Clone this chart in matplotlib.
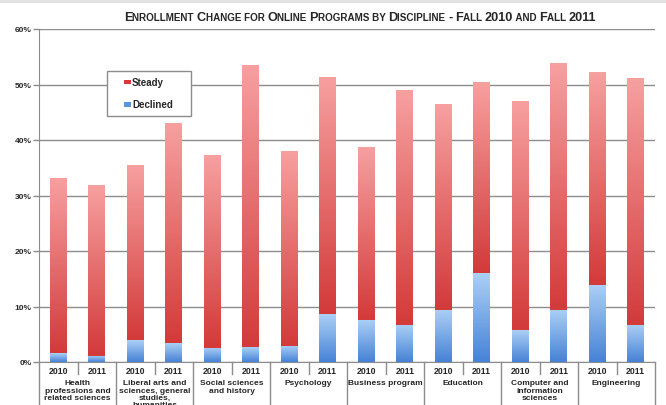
import matplotlib
matplotlib.use('Agg')
import matplotlib.pyplot as plt
import numpy as np
from matplotlib.colors import LinearSegmentedColormap
from matplotlib.patches import Rectangle
from matplotlib.offsetbox import TextArea, HPacker, AnchoredOffsetbox
from matplotlib.transforms import blended_transform_factory

# ---------------- data ----------------
title = "Enrollment Change for Online Programs by Discipline - Fall 2010 and Fall 2011"
years = ['2010', '2011'] * 8
disciplines = [
    "Health\nprofessions and\nrelated sciences",
    "Liberal arts and\nsciences, general\nstudies,\nhumanities",
    "Social sciences\nand history",
    "Psychology",
    "Business program",
    "Education",
    "Computer and\ninformation\nsciences",
    "Engineering",
]
declined = [1.6, 1.1, 3.9, 3.4, 2.6, 2.7, 2.9, 8.6, 7.6, 6.7, 9.4, 16.0, 5.7, 9.4, 13.9, 6.7]
steady = [31.6, 30.8, 31.6, 39.7, 34.7, 50.9, 35.2, 42.8, 31.2, 42.3, 37.1, 34.5, 41.3, 44.4, 38.3, 44.5]
yticks = [0, 10, 20, 30, 40, 50, 60]
series_names = ['Steady', 'Declined']

# ---------------- style ----------------
FONT = 'Liberation Sans'
TXT = '#262626'
GRID = '#8c8c8c'
RED_TOP, RED_BOT = '#f7a0a0', '#d33a3a'
BLUE_TOP, BLUE_BOT = '#acd0f6', '#4682d6'

fig = plt.figure(figsize=(6.66, 4.06), dpi=100)
fig.patch.set_facecolor('white')
fig.patches.append(Rectangle((0, 1 - 4 / 406), 1, 4 / 406, transform=fig.transFigure,
                             fc='#e2e2e2', ec='none', zorder=0))

ax = fig.add_axes([39 / 666, 1 - 363 / 406, 616 / 666, 333 / 406])
x = np.arange(len(years))
w = 0.43

bars_d = ax.bar(x, declined, w, color='none', edgecolor='none', zorder=3)
bars_s = ax.bar(x, steady, w, bottom=declined, color='none', edgecolor='none', zorder=3)


def grad_fill(patch, c_top, c_bot):
    x0, y0 = patch.get_x(), patch.get_y()
    pw, ph = patch.get_width(), patch.get_height()
    cmap = LinearSegmentedColormap.from_list('g', [c_bot, c_top])
    img = np.linspace(0, 1, 128).reshape(-1, 1)
    im = ax.imshow(img, cmap=cmap, extent=[x0, x0 + pw, y0, y0 + ph], origin='lower',
                   aspect='auto', zorder=3, interpolation='bilinear')
    im.set_clip_path(patch)


for p in bars_d:
    grad_fill(p, BLUE_TOP, BLUE_BOT)
for p in bars_s:
    grad_fill(p, RED_TOP, RED_BOT)

ax.set_xlim(-0.5, len(years) - 0.5)
ax.set_ylim(0, 60)
ax.set_yticks(yticks)
ax.set_yticklabels([f'{v}%' for v in yticks], fontsize=6, fontweight='bold',
                   family=FONT, color=TXT)
ax.tick_params(axis='y', direction='out', length=4.5, width=1, color=GRID, pad=0.8)
ax.set_xticks([])
ax.yaxis.grid(True, color=GRID, lw=1)
ax.set_axisbelow(True)
for s in ['top', 'right']:
    ax.spines[s].set_visible(False)
ax.spines['left'].set_color(GRID)
ax.spines['bottom'].set_color(GRID)

# ---------------- category axis ----------------
trans = blended_transform_factory(ax.transData, ax.transAxes)
for i, yr in enumerate(years):
    ax.text(x[i], -0.027, yr, transform=trans, ha='center', va='center',
            fontsize=6.3, fontweight='bold', family=FONT, color=TXT)
for k in range(len(disciplines) + 1):
    xg = -0.5 + 2 * k
    ax.plot([xg, xg], [0, -0.14], transform=trans, clip_on=False, color=GRID, lw=1)
for k in range(len(disciplines)):
    xs = 0.5 + 2 * k
    ax.plot([xs, xs], [0, -0.036], transform=trans, clip_on=False, color=GRID, lw=1)
    ax.text(xs, -0.052, disciplines[k], transform=trans, ha='center', va='top',
            fontsize=6, fontweight='bold', family=FONT, color=TXT, linespacing=1.05)

# ---------------- legend ----------------
def ax_x(px):
    return (px - 39) / 616


def ax_y(py):
    return (363 - py) / 333


ax.add_patch(Rectangle((ax_x(107), ax_y(117)), ax_x(191) - ax_x(107), ax_y(72) - ax_y(117),
                       transform=ax.transAxes, fc='white', ec=GRID, lw=1, zorder=6))
for name, col, cy in [(series_names[0], RED_BOT, 83), (series_names[1], '#5a93de', 105.5)]:
    ax.add_patch(Rectangle((ax_x(124), ax_y(cy + 2)), ax_x(131) - ax_x(124), ax_y(cy - 2) - ax_y(cy + 2),
                           transform=ax.transAxes, fc=col, ec='none', zorder=7))
    ax.text(ax_x(132), ax_y(cy), name, transform=ax.transAxes, ha='left', va='center',
            fontsize=7, fontweight='bold', family=FONT, color=TXT, zorder=8)

# ---------------- small-caps title ----------------
BIG, SMALL = 9.2, 7.1
segs = []
for ch in title:
    size = SMALL if (ch.islower() or ch == ' ') else BIG
    c = ch.upper()
    if segs and segs[-1][1] == size:
        segs[-1][0] += c
    else:
        segs.append([c, size])
children = [TextArea(s, textprops=dict(fontsize=sz, fontweight='bold', family=FONT, color=TXT))
            for s, sz in segs]
pack = HPacker(children=children, align='baseline', pad=0, sep=0)
anch = AnchoredOffsetbox(loc='center', child=pack, pad=0, borderpad=0, frameon=False,
                         bbox_to_anchor=(360 / 666, 1 - 18 / 406), bbox_transform=fig.transFigure)
fig.add_artist(anch)

fig.savefig('out.png', dpi=100)
